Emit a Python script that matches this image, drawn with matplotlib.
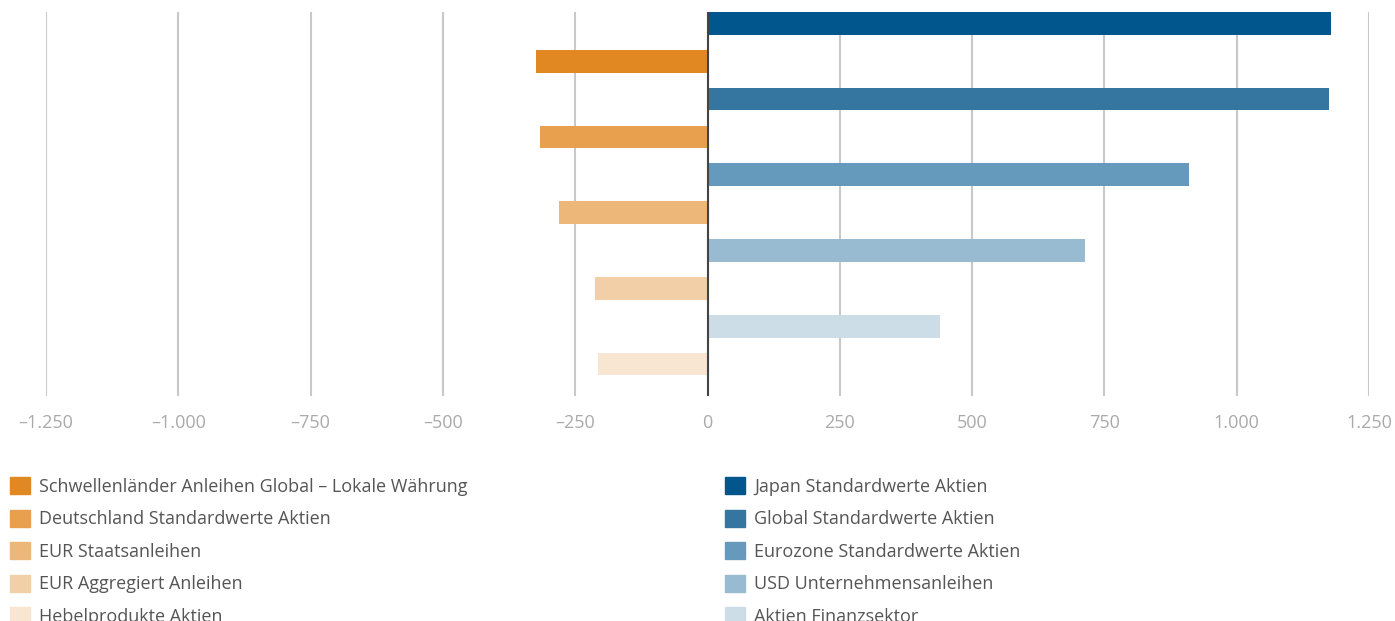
import numpy as np
import matplotlib
matplotlib.use('Agg')
import matplotlib.pyplot as plt
from matplotlib.patches import Patch
from matplotlib.ticker import FuncFormatter

plt.rcParams['font.family'] = ['Open Sans', 'DejaVu Sans']

# Abflüsse (orange) und Zuflüsse (blau)
outflow_names = ['Schwellenländer Anleihen Global – Lokale Währung',
                 'Deutschland Standardwerte Aktien',
                 'EUR Staatsanleihen',
                 'EUR Aggregiert Anleihen',
                 'Hebelprodukte Aktien']
outflow_values = [-324, -317, -281, -213, -206]
outflow_colors = ['#E28823', '#E8A04E', '#EEB77A', '#F3CFA7', '#F8E6D3']

inflow_names = ['Japan Standardwerte Aktien',
                'Global Standardwerte Aktien',
                'Eurozone Standardwerte Aktien',
                'USD Unternehmensanleihen',
                'Aktien Finanzsektor']
inflow_values = [1179, 1175, 909, 713, 440]
inflow_colors = ['#00568D', '#3576A1', '#669ABC', '#99BBD1', '#CCDDE8']

xticks = [-1250, -1000, -750, -500, -250, 0, 250, 500, 750, 1000, 1250]


def fmt_de(v, pos=None):
    s = '{:,.0f}'.format(abs(v)).replace(',', '.')
    return ('\u2013' + s) if v < 0 else s


fig = plt.figure(figsize=(13.95, 6.21), dpi=100)
ax = fig.add_axes([46 / 1395, 1 - 396 / 621, 1323 / 1395, 384 / 621])

#  Balken abwechselnd: blau, orange, blau, ...
for i in range(len(inflow_values)):
    ax.barh(2 * i, inflow_values[i], height=0.6, color=inflow_colors[i],
            zorder=2)
    ax.barh(2 * i + 1, outflow_values[i], height=0.6,
            color=outflow_colors[i], zorder=2)

ax.set_xlim(-1250, 1250)
ax.set_ylim(9.845, -0.3)
ax.set_xticks(xticks)
ax.xaxis.set_major_formatter(FuncFormatter(fmt_de))
ax.set_yticks([])
ax.grid(axis='x', color='#C8C8C8', lw=1.5, zorder=0)
ax.axvline(0, color='#444444', lw=1.5, zorder=3)
for sp in ax.spines.values():
    sp.set_visible(False)
ax.tick_params(axis='x', length=0, pad=13, labelsize=13, labelcolor='#AAAAAA')

#  Legende in zwei Spalten
h_out = [Patch(color=c) for c in outflow_colors]
h_in = [Patch(color=c) for c in inflow_colors]
leg_kw = dict(loc='upper left', frameon=False, fontsize=13,
              handlelength=1.1, handleheight=1.1, handletextpad=0.5,
              labelspacing=0.76, borderpad=0, borderaxespad=0,
              labelcolor='#555555')
fig.legend(h_out, outflow_names, bbox_to_anchor=(10 / 1395, 1 - 477 / 621),
           **leg_kw)
fig.legend(h_in, inflow_names, bbox_to_anchor=(725 / 1395, 1 - 477 / 621),
           **leg_kw)

fig.savefig('out.png', dpi=100)
